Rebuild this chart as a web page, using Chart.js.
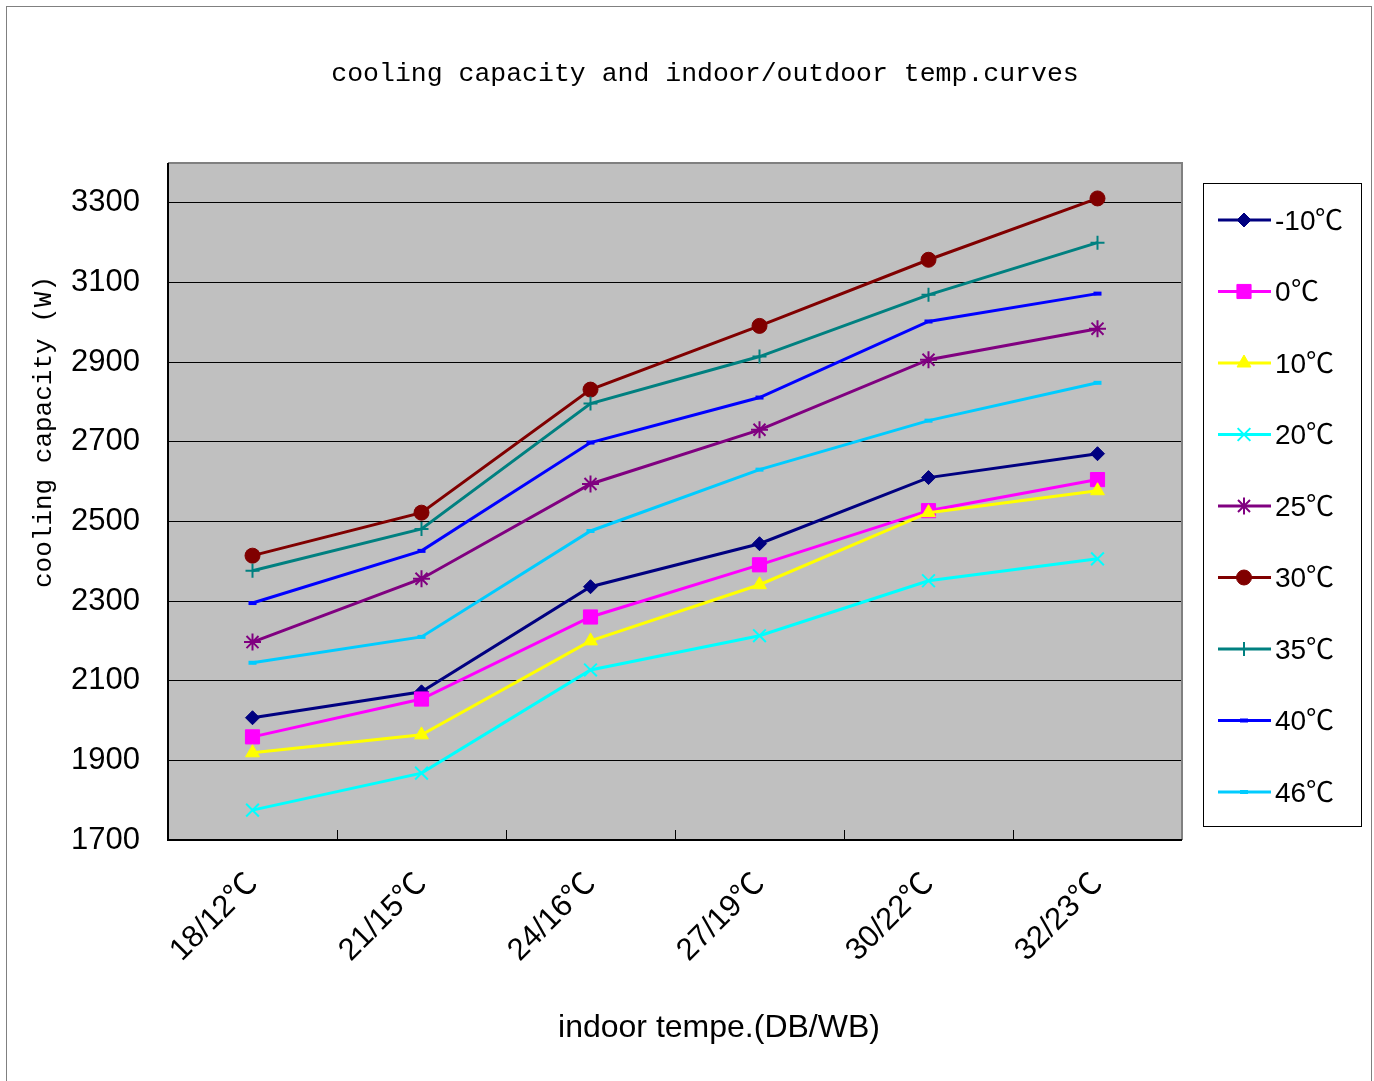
<!DOCTYPE html>
<html>
<head>
<meta charset="utf-8">
<script src="https://cdn.jsdelivr.net/npm/chart.js@4/dist/chart.umd.min.js"></script>
<style>
  /* full-width degree Celsius sign from the CJK font */
  @font-face {
    font-family: 'DegC';
    src: local('NotoSansCJKsc-Regular'), local('Noto Sans CJK SC Regular'), local('Noto Sans CJK SC'),
         local('NotoSansCJKjp-Regular'), local('Noto Sans CJK JP Regular');
    unicode-range: U+2103;
  }
  html, body { margin: 0; padding: 0; background: #fff; }
</style>
</head>
<body>
<canvas id="chart" width="1374" height="1081"></canvas>
<script>
// indoor dry/wet bulb temperatures
const categories = ['18/12℃', '21/15℃', '24/16℃', '27/19℃', '30/22℃', '32/23℃'];

// cooling capacity (W) per outdoor temperature
const outdoorMinus10 = [2007, 2072, 2336, 2444, 2610, 2670];
const outdoor0 = [1959, 2054, 2260, 2391, 2527, 2605];
const outdoor10 = [1919, 1964, 2200, 2341, 2522, 2577];
const outdoor20 = [1775, 1868, 2127, 2213, 2351, 2406];
const outdoor25 = [2197, 2356, 2594, 2730, 2906, 2984];
const outdoor30 = [2414, 2522, 2831, 2991, 3157, 3311];
const outdoor35 = [2376, 2481, 2796, 2914, 3069, 3200];
const outdoor40 = [2295, 2426, 2698, 2811, 3002, 3072];
const outdoor46 = [2145, 2210, 2476, 2630, 2753, 2848];

const yTicks = [1700, 1900, 2100, 2300, 2500, 2700, 2900, 3100, 3300];

const series = [
  { label: '-10℃', data: outdoorMinus10, color: '#000080', style: 'rectRot', radius: 7, bw: 1 },
  { label: '0℃', data: outdoor0, color: '#ff00ff', style: 'rect', radius: 10, bw: 1 },
  { label: '10℃', data: outdoor10, color: '#ffff00', style: 'triangle', radius: 8, bw: 1 },
  { label: '20℃', data: outdoor20, color: '#00ffff', style: 'crossRot', radius: 9, bw: 2 },
  { label: '25℃', data: outdoor25, color: '#800080', style: 'star', radius: 8.5, bw: 2 },
  { label: '30℃', data: outdoor30, color: '#800000', style: 'circle', radius: 7.5, bw: 1 },
  { label: '35℃', data: outdoor35, color: '#008080', style: 'cross', radius: 7, bw: 2 },
  { label: '40℃', data: outdoor40, color: '#0000ff', style: 'line', radius: 4, bw: 4 },
  { label: '46℃', data: outdoor46, color: '#00ccff', style: 'line', radius: 4, bw: 4 }
];

const sansFont = 'DegC, "Liberation Sans", Arial, "Noto Sans CJK SC", sans-serif';
const monoFont = '"Liberation Mono", "DejaVu Sans Mono", monospace';

// background, plot frame, inner ticks, titles and legend
const decor = {
  id: 'decor',
  beforeDraw(chart) {
    const { ctx, chartArea: a } = chart;
    ctx.save();
    ctx.fillStyle = '#fff';
    ctx.fillRect(0, 0, chart.width, chart.height);
    ctx.fillStyle = '#c0c0c0';
    ctx.fillRect(a.left, a.top, a.right - a.left, a.bottom - a.top);
    ctx.restore();
  },
  beforeDatasetsDraw(chart) {
    const { ctx, chartArea: a } = chart;
    const xs = chart.scales.x;
    ctx.save();
    ctx.lineWidth = 2;
    ctx.strokeStyle = '#808080';
    ctx.beginPath();
    ctx.moveTo(a.left, a.top);
    ctx.lineTo(a.right, a.top);
    ctx.lineTo(a.right, a.bottom);
    ctx.stroke();
    ctx.strokeStyle = '#000';
    ctx.beginPath();
    ctx.moveTo(a.left, a.top);
    ctx.lineTo(a.left, a.bottom);
    ctx.lineTo(a.right, a.bottom);
    ctx.stroke();
    // short ticks between categories
    ctx.lineWidth = 1;
    for (let i = 0; i < categories.length - 1; i++) {
      const x = Math.round((xs.getPixelForValue(i) + xs.getPixelForValue(i + 1)) / 2) + 0.5;
      ctx.beginPath();
      ctx.moveTo(x, a.bottom);
      ctx.lineTo(x, a.bottom - 10);
      ctx.stroke();
    }
    ctx.restore();
  },
  afterDraw(chart) {
    const { ctx } = chart;
    ctx.save();
    // outer border
    ctx.strokeStyle = '#808080';
    ctx.lineWidth = 1;
    ctx.strokeRect(6.5, 6.5, 1365, 1090);

    ctx.fillStyle = '#000';
    ctx.textAlign = 'center';
    ctx.textBaseline = 'middle';
    ctx.font = '26.5px ' + monoFont;
    ctx.fillText('cooling capacity and indoor/outdoor temp.curves', 705, 74);

    ctx.save();
    ctx.translate(44, 432);
    ctx.rotate(-Math.PI / 2);
    ctx.font = '26px ' + monoFont;
    ctx.fillText('cooling capacity (W)', 0, 0);
    ctx.restore();

    ctx.font = '32px ' + sansFont;
    ctx.fillText('indoor tempe.(DB/WB)', 719, 1028);

    // legend
    ctx.fillStyle = '#fff';
    ctx.fillRect(1203.5, 183.5, 158, 643);
    ctx.strokeStyle = '#000';
    ctx.strokeRect(1203.5, 183.5, 158, 643);
    ctx.font = '28px ' + sansFont;
    ctx.textAlign = 'left';
    series.forEach((s, i) => {
      const y = 220 + i * 71.5;
      ctx.strokeStyle = s.color;
      ctx.lineWidth = 3;
      ctx.beginPath();
      ctx.moveTo(1218, y);
      ctx.lineTo(1271, y);
      ctx.stroke();
      ctx.fillStyle = s.color;
      ctx.lineWidth = s.bw;
      Chart.helpers.drawPoint(ctx, {
        pointStyle: s.style, radius: s.radius, rotation: 0, borderWidth: s.bw
      }, 1244, y);
      ctx.fillStyle = '#000';
      ctx.fillText(s.label, 1275, y + 2);
    });
    ctx.restore();
  }
};

function buildChart() {
  new Chart(document.getElementById('chart'), {
    type: 'line',
    data: {
      labels: categories,
      datasets: series.map((s, i) => ({
        label: s.label,
        data: s.data,
        borderColor: s.color,
        backgroundColor: s.color,
        borderWidth: 3,
        pointStyle: s.style,
        pointRadius: s.radius,
        pointBorderWidth: s.bw,
        pointBackgroundColor: s.color,
        pointBorderColor: s.color,
        tension: 0,
        order: series.length - i
      }))
    },
    options: {
      responsive: false,
      animation: false,
      devicePixelRatio: 1,
      layout: { padding: { top: 163, right: 192, left: 0, bottom: 0 } },
      plugins: {
        legend: { display: false },
        title: { display: false },
        tooltip: { enabled: false }
      },
      scales: {
        x: {
          offset: true,
          grid: { display: false },
          border: { display: false },
          ticks: {
            color: '#000',
            font: { family: sansFont, size: 31 },
            minRotation: 45,
            maxRotation: 45,
            padding: 18
          },
          afterFit(scale) {
            scale.height = 241;
            scale.paddingLeft = 0;
            scale.paddingRight = 0;
          }
        },
        y: {
          min: 1700,
          max: 3400,
          afterBuildTicks(scale) {
            scale.ticks = yTicks.map(v => ({ value: v }));
          },
          grid: { color: '#000', lineWidth: 1, drawTicks: false },
          border: { display: false },
          ticks: {
            color: '#000',
            font: { family: sansFont, size: 31 },
            padding: 28,
            callback: v => String(v)
          },
          afterFit(scale) {
            scale.width = 168;
            scale.paddingTop = 0;
            scale.paddingBottom = 0;
          }
        }
      }
    },
    plugins: [decor]
  });
}

document.fonts.load('31px DegC', '℃').then(buildChart, buildChart);
</script>
</body>
</html>
